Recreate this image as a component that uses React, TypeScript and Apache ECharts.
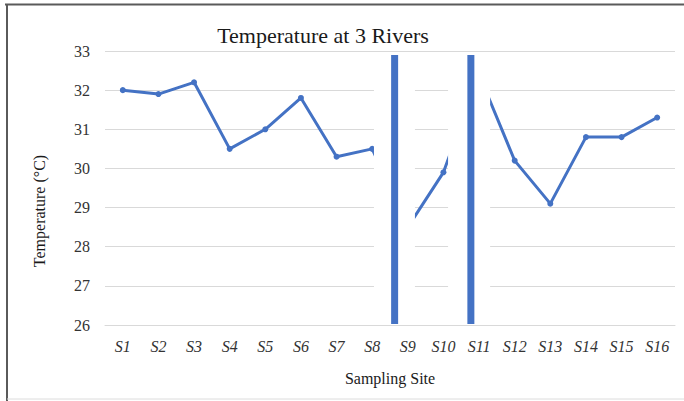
import React, { useEffect, useRef } from "react";
import * as echarts from "echarts";

const categories = ["S1", "S2", "S3", "S4", "S5", "S6", "S7", "S8", "S9", "S10", "S11", "S12", "S13", "S14", "S15", "S16"];
const temperature = [32.0, 31.9, 32.2, 30.5, 31.0, 31.8, 30.3, 30.5, 28.5, 29.9, 32.4, 30.2, 29.1, 30.8, 30.8, 31.3];
const yMin = 26;
const yMax = 33;
const yInterval = 1;
// river separators, in category positions (S1 = 1)
const gapStarts = [8.05, 10.13];
const gapEnds = [9.2, 11.31];
const dividerPositions = [8.63, 10.77];

const FONT = "'Liberation Serif', 'Times New Roman', serif";

export default function App() {
  const ref = useRef<HTMLDivElement>(null);
  useEffect(() => {
    if (!ref.current) return;
    const chart = echarts.init(ref.current, null, { renderer: "svg" });
    const overlayData = gapStarts.map((s, i) => [s, gapEnds[i], dividerPositions[i]]);
    chart.setOption({
      animation: false,
      backgroundColor: "#ffffff",
      title: {
        text: "Temperature at 3 Rivers",
        left: 318,
        textAlign: "center",
        top: 19,
        textStyle: { fontFamily: FONT, fontSize: 22, fontWeight: "normal", color: "#1a1a1a" },
      },
      graphic: [
        { type: "line", shape: { x1: 5, y1: 4.5, x2: 684, y2: 4.5 }, style: { stroke: "#5a5a5a", lineWidth: 2 } },
        { type: "line", shape: { x1: 7, y1: 4, x2: 7, y2: 401 }, style: { stroke: "#5a5a5a", lineWidth: 2 } },
        { type: "line", shape: { x1: 7, y1: 399, x2: 684, y2: 399 }, style: { stroke: "#dcdcdc", lineWidth: 1 } },
      ],
      grid: { left: 105, right: 9, top: 51, bottom: 76, containLabel: false },
      xAxis: [
        {
          type: "category",
          data: categories,
          boundaryGap: true,
          axisTick: { show: false },
          axisLine: { lineStyle: { color: "#d9d9d9", width: 1 } },
          axisLabel: { fontFamily: FONT, fontSize: 16, fontStyle: "italic", color: "#333333", margin: 13, interval: 0 },
          name: "Sampling Site",
          nameLocation: "middle",
          nameGap: 45,
          nameTextStyle: { fontFamily: FONT, fontSize: 16, color: "#1a1a1a" },
        },
        { type: "value", min: 0.5, max: 16.5, show: false },
      ],
      yAxis: {
        type: "value",
        min: yMin,
        max: yMax,
        interval: yInterval,
        axisLine: { show: false },
        axisTick: { show: false },
        splitLine: { lineStyle: { color: "#d9d9d9", width: 1 } },
        axisLabel: { fontFamily: FONT, fontSize: 16, color: "#333333", margin: 15 },
        name: "Temperature (\u00B0C)",
        nameLocation: "middle",
        nameGap: 58,
        nameTextStyle: { fontFamily: FONT, fontSize: 16, color: "#1a1a1a", padding: [0, 46, 0, 0] },
      },
      series: [
        {
          type: "line",
          data: temperature,
          xAxisIndex: 0,
          yAxisIndex: 0,
          symbol: "circle",
          symbolSize: 6,
          lineStyle: { color: "#4472C4", width: 3 },
          itemStyle: { color: "#4472C4" },
          z: 2,
        },
        {
          type: "custom",
          xAxisIndex: 1,
          yAxisIndex: 0,
          z: 5,
          data: overlayData,
          renderItem: (params: any, api: any) => {
            const p0 = api.coord([api.value(0), yMax]);
            const p1 = api.coord([api.value(1), yMin]);
            const pd = api.coord([api.value(2), yMax]);
            const top = p0[1];
            const bottom = p1[1];
            return {
              type: "group",
              children: [
                {
                  type: "rect",
                  shape: { x: p0[0], y: top + 1.5, width: p1[0] - p0[0], height: bottom - top - 2.5 },
                  style: { fill: "#ffffff" },
                },
                {
                  type: "rect",
                  shape: { x: pd[0] - 3.5, y: top + 4, width: 7, height: bottom - top - 5 },
                  style: { fill: "#4472C4" },
                },
              ],
            };
          },
        },
      ],
    });
    return () => chart.dispose();
  }, []);
  return <div ref={ref} style={{ position: "fixed", left: 0, top: 0, width: 684, height: 401 }} />;
}
